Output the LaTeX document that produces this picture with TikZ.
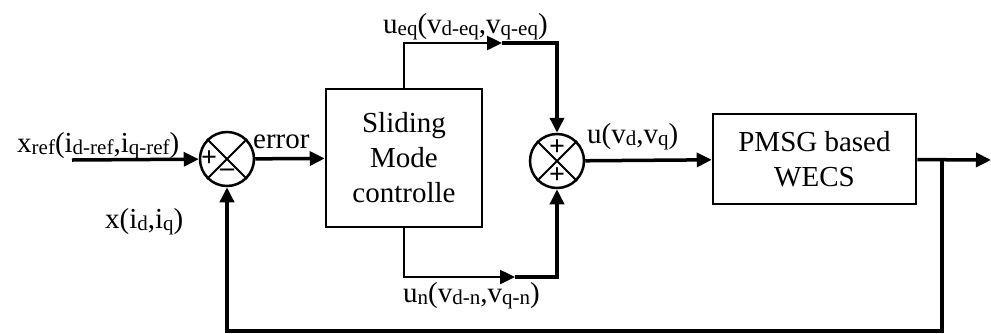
\documentclass[tikz,border=0pt]{standalone}
\usepackage{fontspec}
\setmainfont{Liberation Serif}
\usetikzlibrary{arrows.meta, calc}
\newcommand{\sbs}[1]{\raisebox{-2pt}{\fontsize{21}{21}\selectfont #1}}

\begin{document}
\begin{tikzpicture}[x=1pt, y=-1pt,
    block/.style={draw=black, line width=2.5pt, align=center, font=\fontsize{29}{35}\selectfont},
    sumnode/.style={draw=black, line width=2.5pt, circle, minimum size=54pt, inner sep=0pt},
    sig/.style={line width=3.5pt, -{Triangle[length=15pt, width=14pt]}},
    branch/.style={line width=2.5pt, -{Triangle[length=15pt, width=14pt]}},
    lbl/.style={anchor=base west, inner sep=0pt, font=\fontsize{29}{35}\selectfont},
    sign/.style={font=\fontsize{28}{28}\selectfont\bfseries, inner sep=0pt}
]
    \useasboundingbox (0,0) rectangle (991,333);

    % blocks and summing points
    \node[sumnode] (sum1) at (227,159) {};
    \node[sumnode] (sum2) at (557,161) {};
    \node[block, minimum width=156pt, minimum height=138pt] (smc) at (404,158) {Sliding\\Mode\\controlle};
    \node[block, minimum width=203pt, minimum height=90pt] (wecs) at (814.5,159) {PMSG based\\WECS};

    \foreach \s in {sum1, sum2} {
        \draw[line width=2pt] (\s.north west) -- (\s.south east) (\s.north east) -- (\s.south west);
    }
    \node[sign] at ([xshift=-18pt]sum1.center) {+};
    \node[sign] at ([yshift=-14pt]sum1.center) {\textendash};
    \node[sign] at ([yshift=13pt]sum2.center) {+};
    \node[sign] at ([yshift=-15pt]sum2.center) {+};

    \coordinate (in) at (72,160);
    \coordinate (out) at (991,160);
    \coordinate (split) at (942,160);
    \coordinate (fb) at (942,331);
    \coordinate (ueqtip) at (502,43);
    \coordinate (untip) at (515,277);

    % signals
    \draw[sig] (in) -- (sum1);
    \draw[sig] (sum1) -- (smc);
    \draw[branch] (smc.north) |- (ueqtip);
    \draw[sig] (ueqtip) -| (sum2.north);
    \draw[branch] (smc.south) |- (untip);
    \draw[sig] (untip) -| (sum2.south);
    \draw[sig] (sum2) -- (wecs);
    \draw[sig] (wecs) -- (out);
    \draw[sig] (split) -- (fb) -| (sum1.south);

    % labels
    \node[lbl] (xref) at (17,152) {x\sbs{ref}(i\sbs{d-ref},i\sbs{q-ref})};
    \node[lbl] (xmeas) at (105,228) {x(i\sbs{d},i\sbs{q})};
    \node[lbl] (err) at (253,148) {error};
    \node[lbl] (ueq) at (383,33) {u\sbs{eq}(v\sbs{d-eq},v\sbs{q-eq})};
    \node[lbl] (un) at (403,302) {u\sbs{n}(v\sbs{d-n},v\sbs{q-n})};
    \node[lbl] (uout) at (587,143) {u(v\sbs{d},v\sbs{q})};
\end{tikzpicture}
\end{document}
